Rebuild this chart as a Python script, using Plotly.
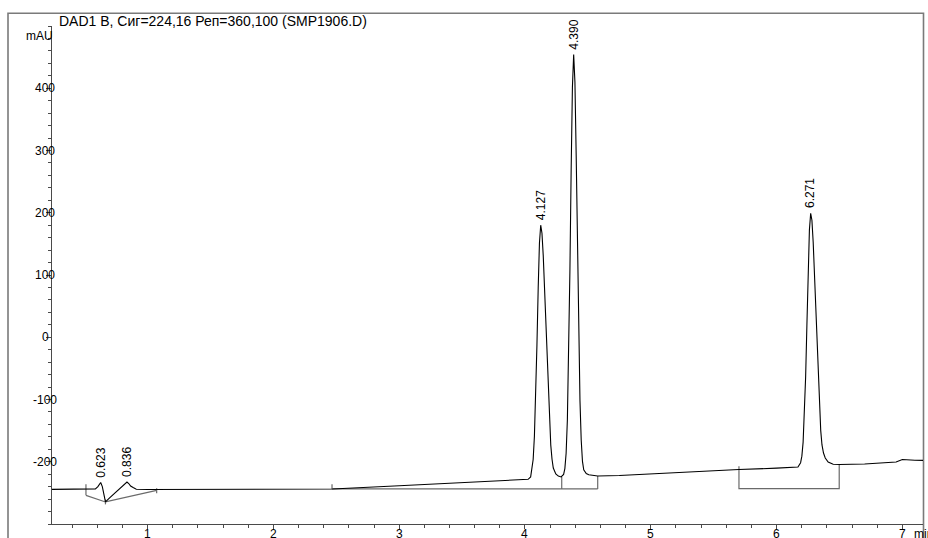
import plotly.graph_objects as go

# ---- data ----
t_signal = [0.24, 0.40, 0.55, 0.585, 0.605, 0.627, 0.64, 0.652, 0.665, 0.70, 0.75, 0.80, 0.82,
            0.836, 0.85, 0.865, 0.885, 0.91, 1.0, 1.5, 2.0, 2.47, 3.0, 3.5, 4.0,
            4.025, 4.045, 4.065, 4.075, 4.085, 4.095, 4.105, 4.115, 4.125, 4.135, 4.145, 4.155,
            4.165, 4.175, 4.185, 4.195, 4.205, 4.215, 4.225, 4.245, 4.265, 4.287,
            4.307, 4.317, 4.327, 4.337, 4.347, 4.357, 4.367, 4.377, 4.387, 4.397, 4.407, 4.417,
            4.427, 4.437, 4.447, 4.457, 4.467, 4.487, 4.507, 4.547, 4.578,
            4.75, 5.0, 5.3, 5.50, 5.53, 5.70, 6.0, 6.17,
            6.191, 6.201, 6.211, 6.221, 6.231, 6.241, 6.251, 6.261, 6.271, 6.281, 6.291, 6.301,
            6.311, 6.321, 6.331, 6.341, 6.351, 6.361, 6.373, 6.387, 6.41, 6.45, 6.50,
            6.70, 6.90, 6.95, 7.0, 7.05, 7.10, 7.164]
mau_signal = [-244.3, -244.4, -244.5, -243.5, -240, -233.4, -240, -252, -264.5, -257.5, -248, -238.5, -234.5,
              -232.5, -235, -239, -241.5, -244.2, -244.5, -244.6, -244.4, -243.8, -238.6, -233.8, -229.1,
              -228.2, -224.3, -196.5, -158.8, -96.8, -12.5, 79, 151.5, 180, 167, 131.5, 79.5,
              19, -41.7, -96, -140, -173.3, -196, -210, -219.5, -223, -224.4,
              -220.4, -211, -186.4, -132.6, -36, 105.6, 267.8, 401.4, 454, 410, 292, 143,
              3, -101, -165.6, -199.5, -213, -219, -221, -222.5, -222.8,
              -222.2, -219.6, -216.4, -214.5, -213.5, -212.5, -210.3, -208.4,
              -201.5, -191, -168.5, -127.5, -64, 19, 105.5, 172.5, 199, 188, 153, 101.5,
              41, -19, -73, -117, -150, -173, -186, -194, -200.5, -204, -204.5,
              -203.5, -202, -200.5, -196.5, -196.5, -197.6, -197.8]

# integration baselines and drop lines
bl_t = [0.51, 0.51, None, 0.51, 0.665, 1.072, None, 0.665, 0.665, None, 1.072, 1.072, None,
        2.466, 2.466, None, 2.466, 4.578, None, 4.292, 4.292, None, 4.578, 4.578, None,
        5.701, 5.701, 6.498, 6.498]
bl_mau = [-236, -254, None, -254, -264.6, -246, None, -260.5, -268.5, None, -242.5, -250.5, None,
          -236.3, -243.7, None, -243.7, -243.7, None, -224.4, -243.7, None, -222.8, -243.7, None,
          -207.2, -243.1, -243.1, -204.5]

peak_times = [0.623, 0.836, 4.127, 4.390, 6.271]
peak_apex = [-233.4, -232.5, 180, 454, 199]
peak_labels = ["0.623", "0.836", "4.127", "4.390", "6.271"]

x_tick_values = [1, 2, 3, 4, 5, 6, 7]
x_tick_labels = ["1", "2", "3", "4", "5", "6", "7"]
y_tick_values = [-200, -100, 0, 100, 200, 300, 400]
y_tick_labels = ["-200", "-100", "0", "100", "200", "300", "400"]

title_text = "DAD1 B, Сиг=224,16 Реп=360,100 (SMP1906.D)"

# ---- figure ----
W, H = 928, 538
ML, MR, MT, MB = 52, 5, 26, 14
PW, PH = W - ML - MR, H - MT - MB
FONT = "Liberation Sans, Arial, sans-serif"

def px_x(px):
    return (px - ML) / PW

def px_y(py):
    return (H - MB - py) / PH

fig = go.Figure()
fig.add_trace(go.Scatter(x=bl_t, y=bl_mau, mode="lines",
                         line=dict(color="#6a6a6a", width=1.2), hoverinfo="skip",
                         showlegend=False, connectgaps=False))
fig.add_trace(go.Scatter(x=t_signal, y=mau_signal, mode="lines",
                         line=dict(color="#000000", width=1.1), showlegend=False))

annotations = []
for t, a, lab in zip(peak_times, peak_apex, peak_labels):
    annotations.append(dict(x=t, y=a, xref="x", yref="y", text=lab, showarrow=False,
                            textangle=-90, xanchor="center", yanchor="bottom", yshift=3,
                            font=dict(family=FONT, size=12, color="#000")))
for v, lab in zip(y_tick_values, y_tick_labels):
    annotations.append(dict(x=px_x(45), y=v, xref="paper", yref="y", text=lab, showarrow=False,
                            xanchor="center", yanchor="middle",
                            font=dict(family=FONT, size=12, color="#000")))
for v, lab in zip(x_tick_values, x_tick_labels):
    annotations.append(dict(x=v, y=px_y(534), xref="x", yref="paper", text=lab, showarrow=False,
                            xanchor="center", yanchor="middle",
                            font=dict(family=FONT, size=12, color="#000")))
annotations.append(dict(x=px_x(39), y=px_y(36), xref="paper", yref="paper", text="mAU",
                        showarrow=False, xanchor="center", yanchor="middle",
                        font=dict(family=FONT, size=12, color="#000")))
annotations.append(dict(x=px_x(57), y=px_y(21), xref="paper", yref="paper", text=title_text,
                        showarrow=False, xanchor="left", yanchor="middle",
                        font=dict(family=FONT, size=14, color="#000")))
annotations.append(dict(x=7.076, y=px_y(534), xref="x", yref="paper", text="min",
                        showarrow=False, xanchor="left", yanchor="middle",
                        font=dict(family=FONT, size=12, color="#000")))

shapes = [dict(type="rect", xref="paper", yref="paper",
               x0=px_x(8), x1=px_x(923.5), y0=px_y(560), y1=px_y(13.3),
               line=dict(color="#7a7a7a", width=1.6), layer="below")]

fig.update_layout(
    width=W, height=H,
    margin=dict(l=ML, r=MR, t=MT, b=MB, autoexpand=False),
    paper_bgcolor="white", plot_bgcolor="white",
    showlegend=False,
    annotations=annotations,
    shapes=shapes,
    xaxis=dict(range=[0.24, 7.164], showgrid=False, zeroline=False, automargin=False,
               showline=True, linecolor="#4a4a4a", linewidth=1.2,
               tickvals=x_tick_values, showticklabels=False,
               ticks="outside", ticklen=4, tickcolor="#4a4a4a",
               minor=dict(dtick=0.2, tick0=0, ticks="outside", ticklen=3, tickcolor="#4a4a4a")),
    yaxis=dict(range=[-300, 500], showgrid=False, zeroline=False, automargin=False,
               showline=True, linecolor="#4a4a4a", linewidth=1.2,
               tickvals=y_tick_values, showticklabels=False,
               ticks="outside", ticklen=5, tickcolor="#4a4a4a",
               minor=dict(dtick=20, tick0=0, ticks="outside", ticklen=2.5, tickcolor="#4a4a4a")),
)

fig.write_html("out.html", config={"displayModeBar": False},
               post_script="document.body.style.margin='0px';document.body.style.overflow='hidden';")
